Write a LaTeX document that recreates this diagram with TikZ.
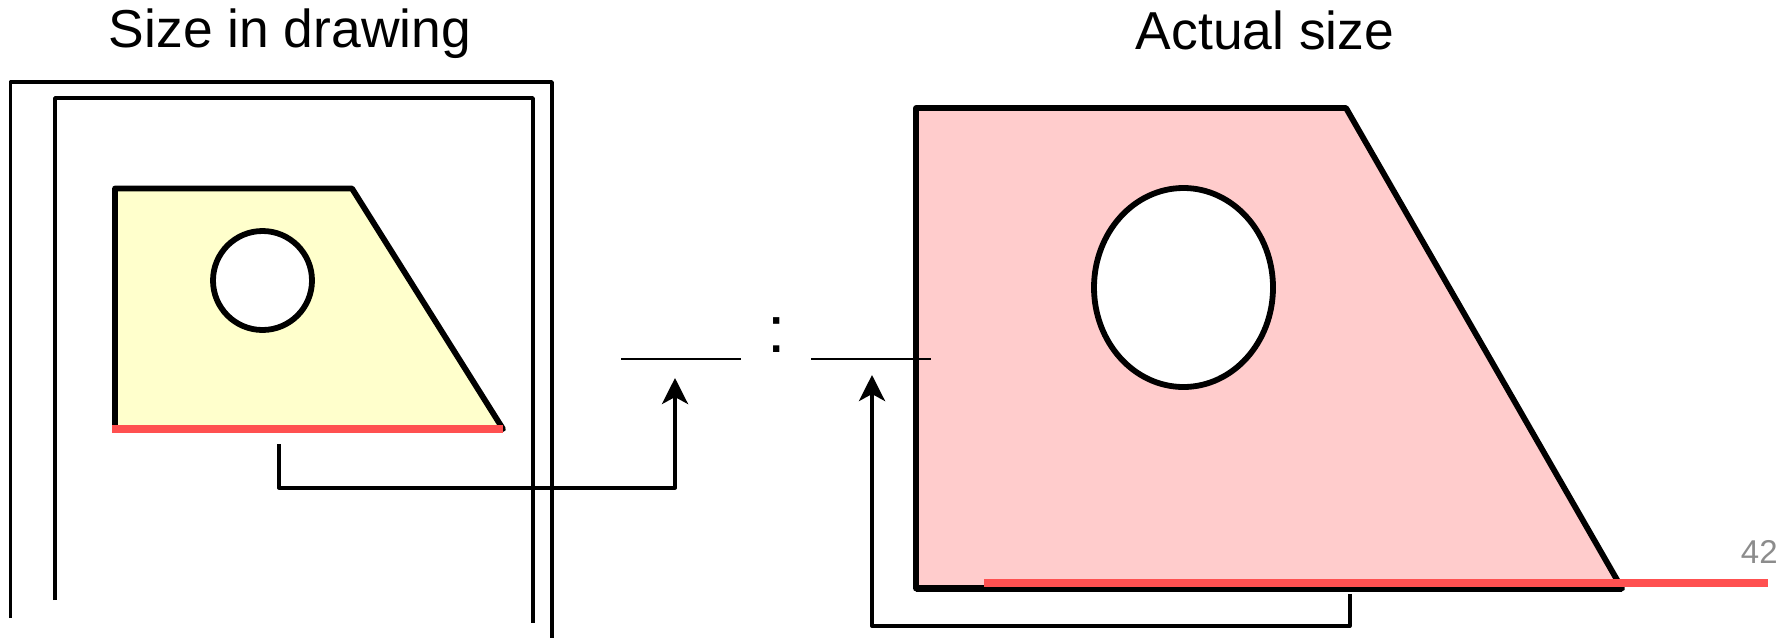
\documentclass[tikz,border=0pt]{standalone}
\usepackage{fontspec}
\setmainfont{Liberation Sans}
\usetikzlibrary{arrows.meta}
\definecolor{yel}{RGB}{255,255,204}
\definecolor{pnk}{RGB}{255,204,204}
\definecolor{redl}{RGB}{255,80,80}
\tikzset{
  frameline/.style={line width=1.8pt,line join=round},
  thickshape/.style={line width=2.9pt,line join=round},
  conn/.style={line width=2pt,line join=round},
  connarrow/.style={conn,-{Stealth[length=13pt,width=13pt,inset=3.5pt]}},
  rule/.style={line width=1pt},
  redbar/.style={line width=4pt,draw=redl},
  title/.style={font=\fontsize{26.7pt}{30pt}\selectfont,inner sep=0pt,anchor=base},
}
\begin{document}
\begin{tikzpicture}[x=0.5pt,y=-0.5pt]
\useasboundingbox (0,0) rectangle (1781,638);
% frames
\coordinate (o1) at (10.5,618); \coordinate (o2) at (10.5,82); \coordinate (o3) at (552,82); \coordinate (o4) at (552,638);
\coordinate (i1) at (55,600); \coordinate (i2) at (55,98); \coordinate (i3) at (533,98); \coordinate (i4) at (533,623);
\draw[frameline] (o1) -- (o2) -- (o3) -- (o4);
\draw[frameline] (i1) -- (i2) -- (i3) -- (i4);
% small shape
\coordinate (a1) at (115,429); \coordinate (a2) at (115,188.5); \coordinate (a3) at (352,188.5); \coordinate (a4) at (503,429);
\draw[thickshape,fill=yel] (a1) -- (a2) -- (a3) -- (a4) -- cycle;
\draw[thickshape,fill=white] (262.5,280.5) ellipse [x radius=49.5,y radius=49.5];
\draw[redbar] (112,429) -- (503,429);
% large shape
\coordinate (b1) at (916,588.5); \coordinate (b2) at (916,108); \coordinate (b3) at (1346,108); \coordinate (b4) at (1622,588.5);
\draw[thickshape,fill=pnk] (b1) -- (b2) -- (b3) -- (b4) -- cycle;
\draw[line width=3.4pt,line join=round] (b1) -- (b4);
\draw[line width=3.4pt] (b1) -- (b2);
\draw[thickshape,fill=white] (1183.5,287.5) ellipse [x radius=89.5,y radius=99.5];
\draw[redbar] (984,583) -- (1768,583);
% rules and colon
\coordinate (r1) at (621,359); \coordinate (r2) at (741,359); \coordinate (r3) at (811,359); \coordinate (r4) at (931,359);
\draw[rule] (r1) -- (r2);
\draw[rule] (r3) -- (r4);
% connectors
\coordinate (c1) at (279,444); \coordinate (c2) at (279,487.5); \coordinate (c3) at (675,487.5); \coordinate (c4) at (675,378);
\draw[connarrow] (c1) -- (c2) -- (c3) -- (c4);
\coordinate (d1) at (1349.5,594); \coordinate (d2) at (1349.5,626); \coordinate (d3) at (872,626); \coordinate (d4) at (872,375);
\draw[connarrow] (d1) -- (d2) -- (d3) -- (d4);
% texts
\node[title] (t1) at (290,47) {Size in drawing};
\node[title] (t2) at (1265,49) {Actual size};
\node[font=\fontsize{33pt}{36pt}\selectfont,inner sep=0pt,anchor=base] (colon) at (777,352) {:};
\node[font=\fontsize{16.5pt}{18pt}\selectfont,text=black!45,inner sep=0pt,anchor=base east] (pg) at (1778,563) {42};
\end{tikzpicture}
\end{document}
